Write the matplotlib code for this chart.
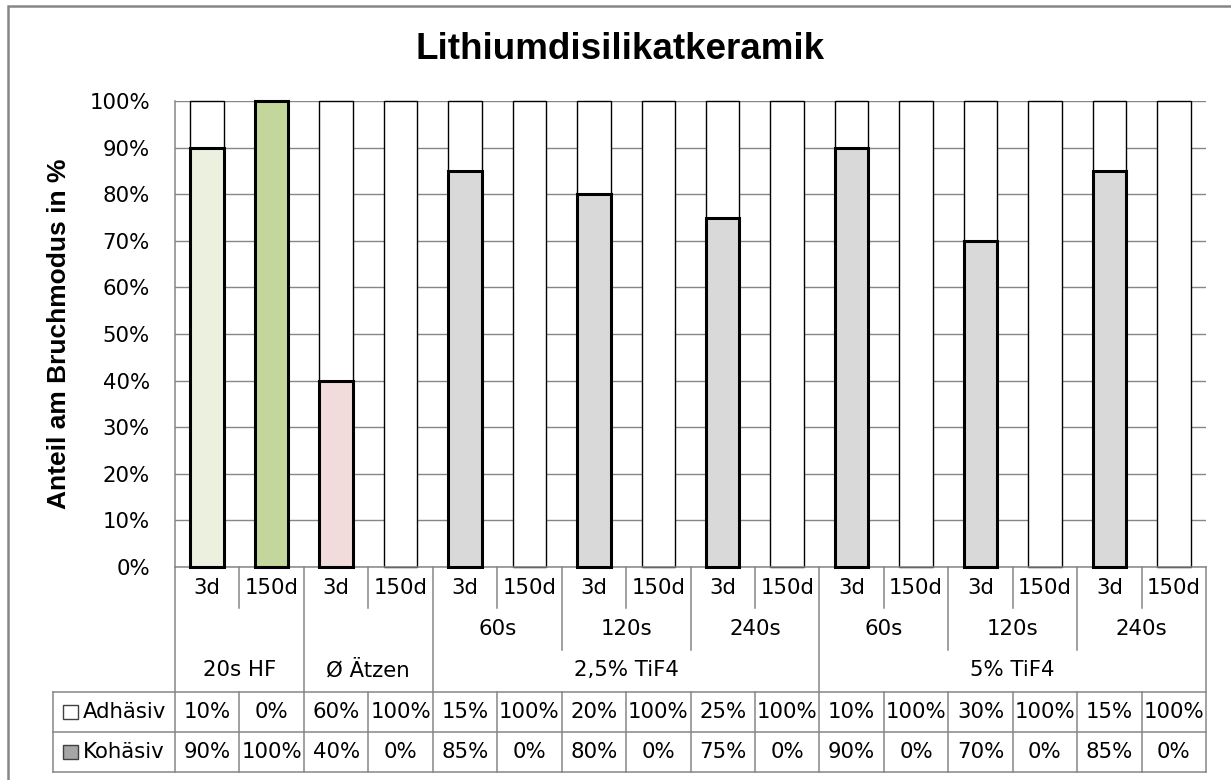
import matplotlib.pyplot as plt
from matplotlib.patches import Rectangle

# Daten aus der Grafik
gruppen = ["20s HF", "Ø Ätzen", "2,5% TiF4", "5% TiF4"]
untergruppen = [[""], [""], ["60s", "120s", "240s"], ["60s", "120s", "240s"]]
zeiten = ["3d", "150d"]
kohaesiv = [90, 100, 40, 0, 85, 0, 80, 0, 75, 0, 90, 0, 70, 0, 85, 0]
adhaesiv = [10, 0, 60, 100, 15, 100, 20, 100, 25, 100, 10, 100, 30, 100, 15, 100]
farben = ["#EBF1DE", "#C3D69B", "#F2DCDB"] + ["#D9D9D9"] * 13

grau = "#868686"
plt.rcParams["font.family"] = "DejaVu Sans"
fs = 15.3

fig = plt.figure(figsize=(12.31, 7.8), dpi=100)
ax = fig.add_axes([175 / 1231, 213 / 780, 1031 / 1231, 466 / 780])

x = list(range(len(kohaesiv)))
b1 = ax.bar(x, adhaesiv, bottom=kohaesiv, width=0.52, color="white", edgecolor="black",
            linewidth=[1.0 if v > 0 else 0 for v in adhaesiv], zorder=2)
b2 = ax.bar(x, kohaesiv, width=0.52, color=farben, edgecolor="black",
            linewidth=[2.2 if v > 0 else 0 for v in kohaesiv], zorder=3)
for p in list(b1) + list(b2):
    p.set_clip_on(False)

ax.set_xlim(-0.5, len(x) - 0.5)
ax.set_ylim(0, 100)
ax.set_yticks(range(0, 101, 10))
ax.set_yticklabels([f"{v}%" for v in range(0, 101, 10)], fontsize=fs)
ax.set_xticks([])
ax.tick_params(axis="y", length=0, pad=18)
ax.yaxis.grid(True, color=grau, lw=1)
ax.set_axisbelow(True)
for s in ["top", "right"]:
    ax.spines[s].set_visible(False)
for s in ["left", "bottom"]:
    ax.spines[s].set_color(grau)
    ax.spines[s].set_linewidth(1.1)

# Titel und Achsenbeschriftung
fig.text(620 / 1231, 1 - 59 / 780, "Lithiumdisilikatkeramik", family="Liberation Sans",
         fontsize=26.5, fontweight="bold", ha="center", va="baseline")
fig.text(59 / 1231, 1 - 334 / 780, "Anteil am Bruchmodus in %", family="Liberation Sans",
         fontsize=19, fontweight="bold", rotation=90, ha="center", va="center")


# Kategorien-Achse und Datentabelle unter dem Diagramm
def yf(px):
    return (567 - px) / 466


r1_bot, r2_bot, t_top, t_mid, t_bot = yf(608), yf(650), yf(692), yf(732), yf(772)
links = (53 - 175) / 1031
tx = ax.get_xaxis_transform()


def linie(xs, ys, trans):
    ax.plot(xs, ys, transform=trans, color=grau, lw=1.1, clip_on=False, zorder=1)


for y in [t_top, t_mid, t_bot]:
    linie([links, 1], [y, y], ax.transAxes)
linie([links, links], [t_top, t_bot], ax.transAxes)

grenzen_gruppe = [0]
grenzen_sub = []
for ug in untergruppen:
    start = grenzen_gruppe[-1]
    for k in range(1, len(ug)):
        grenzen_sub.append(start + k * len(zeiten))
    grenzen_gruppe.append(start + len(ug) * len(zeiten))

for b in range(len(x) + 1):
    xb = b - 0.5
    if b in grenzen_gruppe:
        linie([xb, xb], [0, t_bot], tx)
    elif b in grenzen_sub:
        linie([xb, xb], [0, r2_bot], tx)
        linie([xb, xb], [t_top, t_bot], tx)
    else:
        linie([xb, xb], [0, r1_bot], tx)
        linie([xb, xb], [t_top, t_bot], tx)

for i in x:
    ax.text(i, yf(588), zeiten[i % len(zeiten)], transform=tx, ha="center", va="center", fontsize=fs)
    ax.text(i, yf(712), f"{adhaesiv[i]}%", transform=tx, ha="center", va="center", fontsize=fs)
    ax.text(i, yf(752), f"{kohaesiv[i]}%", transform=tx, ha="center", va="center", fontsize=fs)

for g, name in enumerate(gruppen):
    start = grenzen_gruppe[g]
    ende = grenzen_gruppe[g + 1]
    ax.text((start + ende - 1) / 2, yf(670), name, transform=tx, ha="center", va="center", fontsize=fs)
    for k, sub in enumerate(untergruppen[g]):
        if sub:
            mitte = start + k * len(zeiten) + (len(zeiten) - 1) / 2
            ax.text(mitte, yf(629), sub, transform=tx, ha="center", va="center", fontsize=fs)

# Legendenschlüssel in der Tabelle
for y, name, fc in [(712, "Adhäsiv", "white"), (752, "Kohäsiv", "#A6A6A6")]:
    r = Rectangle(((63 - 175) / 1031, yf(y + 7)), 15 / 1031, 14 / 466, transform=ax.transAxes,
                  facecolor=fc, edgecolor="#404040", lw=1, clip_on=False)
    ax.add_patch(r)
    ax.text((83 - 175) / 1031, yf(y), name, transform=ax.transAxes, ha="left", va="center", fontsize=fs)

# Rahmen um das Diagramm
fig.add_artist(Rectangle((8 / 1231, -0.1), 1.2, 1.1 - 6 / 780, transform=fig.transFigure,
                         fill=False, edgecolor=grau, lw=1.8))

fig.savefig("out.png", dpi=100)
